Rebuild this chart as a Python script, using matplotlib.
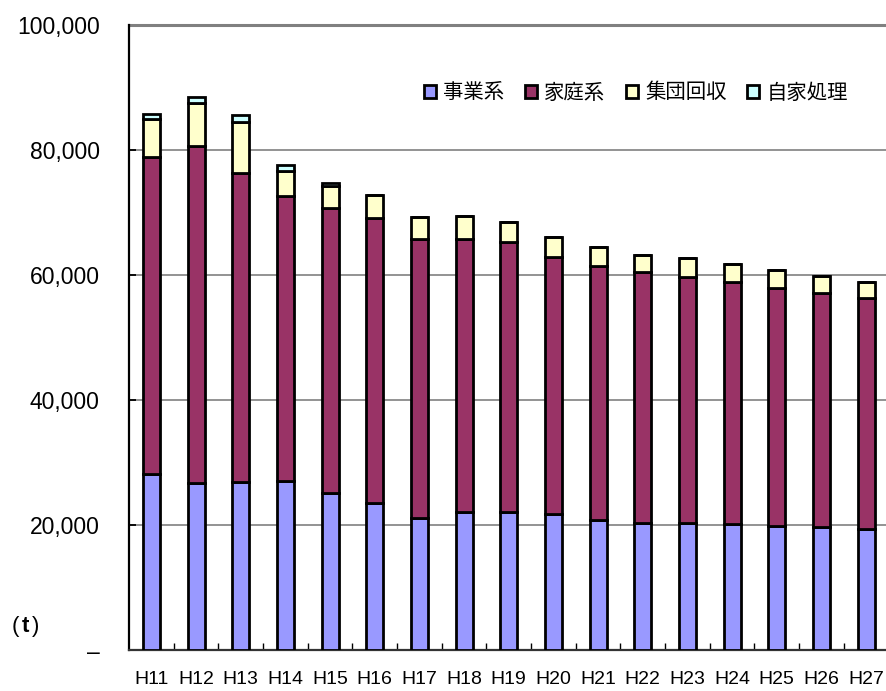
import matplotlib
matplotlib.use("Agg")
import matplotlib.pyplot as plt
from matplotlib.ticker import FuncFormatter, FixedLocator
import numpy as np

plt.rcParams['font.family'] = ['Liberation Sans', 'Noto Sans CJK JP', 'DejaVu Sans']

years = ["H11", "H12", "H13", "H14", "H15", "H16", "H17", "H18", "H19",
         "H20", "H21", "H22", "H23", "H24", "H25", "H26", "H27"]
jigyo = [28200, 26800, 26900, 27000, 25200, 23600, 21200, 22100, 22100,
         21800, 20850, 20400, 20350, 20200, 19900, 19700, 19400]
katei = [50700, 53900, 49500, 45600, 45600, 45450, 44600, 43700, 43200,
         41150, 40600, 40050, 39400, 38650, 38100, 37400, 36950]
shudan = [6000, 6800, 8050, 4050, 3500, 3750, 3550, 3650, 3200,
          3100, 3000, 2800, 2900, 2900, 2800, 2750, 2550]
jika = [900, 1000, 1200, 900, 400, 0, 0, 0, 0,
        0, 0, 0, 0, 0, 0, 0, 0]

series_names = ["事業系", "家庭系", "集団回収", "自家処理"]
series_colors = ["#9999FF", "#993366", "#FFFFCC", "#CCFFFF"]
series_values = [jigyo, katei, shudan, jika]

fig = plt.figure(figsize=(8.87, 6.91), dpi=100)
ax = fig.add_axes([129 / 887, 41 / 691, 759.5 / 887, 625 / 691])

x = np.arange(len(years))
bottom = np.zeros(len(years))
handles = []
for name, color, vals in zip(series_names, series_colors, series_values):
    vals = np.array(vals, dtype=float)
    h = ax.bar(x, vals, width=0.38, bottom=bottom, color=color,
               edgecolor="black", linewidth=2.0, label=name, zorder=3)
    handles.append(h)
    bottom += vals

ax.set_xlim(-0.5, len(years) - 0.5)
ax.set_ylim(0, 100000)

# horizontal gridlines
ax.set_yticks(np.arange(0, 100001, 20000))
ax.yaxis.grid(True, color="#808080", linewidth=1.2, zorder=0)
ax.set_axisbelow(True)
ax.axhline(100000, color="#808080", linewidth=2.2, zorder=1, clip_on=False)

ax.yaxis.set_major_formatter(FuncFormatter(lambda v, p: "–" if v == 0 else f"{int(v):,}"))
ax.tick_params(axis="y", direction="in", length=5, width=1.3, pad=21,
               labelsize=16.5, colors="black")

# category labels under bars, tick marks between categories
ax.set_xticks(x)
ax.set_xticklabels(years)
ax.tick_params(axis="x", which="major", length=0, pad=15, labelsize=14)
ax.xaxis.set_minor_locator(FixedLocator(np.arange(0.5, len(years) - 0.5, 1.0)))
ax.tick_params(axis="x", which="minor", direction="in", length=5, width=1.0)

for s in ["top", "right"]:
    ax.spines[s].set_visible(False)
ax.spines["left"].set_linewidth(1.6)
ax.spines["bottom"].set_linewidth(1.6)
ax.spines["bottom"].set_color("#333333")

# unit label "(t)" with wide spacing between the glyphs
unit_y = 1 - 626.5 / 691
fig.text(15 / 887, unit_y, "(", ha="center", va="center", fontsize=16)
fig.text(25.5 / 887, unit_y, "t", ha="center", va="center", fontsize=16, fontweight="bold")
fig.text(36 / 887, unit_y, ")", ha="center", va="center", fontsize=16)

fig.legend(handles=handles, labels=series_names, loc="center",
           bbox_to_anchor=(636 / 887, 1 - 93 / 691), ncol=4, frameon=False,
           handlelength=0.6, handleheight=0.6, handletextpad=0.35,
           columnspacing=1.0, prop={"family": ["Noto Sans CJK JP", "DejaVu Sans"], "size": 14.7})

fig.savefig("out.png", dpi=100)
